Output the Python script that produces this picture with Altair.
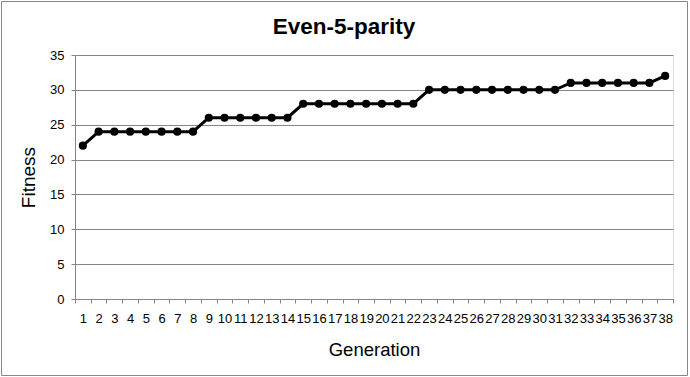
import altair as alt
import pandas as pd

generation = [1, 2, 3, 4, 5, 6, 7, 8, 9, 10, 11, 12, 13, 14, 15, 16, 17, 18, 19,
              20, 21, 22, 23, 24, 25, 26, 27, 28, 29, 30, 31, 32, 33, 34, 35, 36, 37, 38]
fitness = [22, 24, 24, 24, 24, 24, 24, 24, 26, 26, 26, 26, 26, 26,
           28, 28, 28, 28, 28, 28, 28, 28, 30, 30, 30, 30, 30, 30, 30, 30, 30,
           31, 31, 31, 31, 31, 31, 32]
y_ticks = [0, 5, 10, 15, 20, 25, 30, 35]
x_boundaries = [g - 0.5 for g in generation] + [generation[-1] + 0.5]

df = pd.DataFrame({"Generation": generation, "Fitness": fitness})

FONT = "Liberation Sans"
GRAY = "#868686"
W, H = 598, 244

x_enc = alt.X(
    "Generation:Q",
    scale=alt.Scale(domain=[0.5, 38.5], nice=False, zero=False),
    axis=alt.Axis(
        values=x_boundaries,
        labelExpr="datum.value < 38 ? format(datum.value + 0.5, 'd') : ''",
        labelOffset=W / 38 / 2,
        labelFlush=False,
        labelOverlap=False,
        labelBound=False,
        grid=False,
        tickSize=4,
        tickColor=GRAY,
        domainColor=GRAY,
        labelFont=FONT,
        labelFontSize=13,
        labelColor="black",
        labelPadding=9,
        title="Generation",
        titleFont=FONT,
        titleFontSize=18.5,
        titleFontWeight="normal",
        titleColor="black",
        titleX=W / 2,
        titleY=56,
        titleBaseline="alphabetic",
        titleAlign="center",
    ),
)
y_enc = alt.Y(
    "Fitness:Q",
    scale=alt.Scale(domain=[0, 35], nice=False),
    axis=alt.Axis(
        values=y_ticks,
        labelOverlap=False,
        labelFlush=False,
        grid=True,
        gridColor=GRAY,
        tickSize=4,
        tickColor=GRAY,
        domainColor=GRAY,
        labelFont=FONT,
        labelFontSize=13,
        labelColor="black",
        labelPadding=7,
        title="Fitness",
        titleFont=FONT,
        titleFontSize=19,
        titleFontWeight="normal",
        titleColor="black",
        titleX=-47,
        titleY=H / 2,
        titleAngle=-90,
        titleBaseline="middle",
        titleAlign="center",
    ),
)

base = alt.Chart(df).encode(x=x_enc, y=y_enc)
line = base.mark_line(color="black", strokeWidth=3)
pts = base.mark_circle(color="black", opacity=1, size=66)

frame = alt.Chart(pd.DataFrame({"f": [0]})).mark_rect(
    fill=None, stroke="#888888", strokeWidth=1
).encode(
    x=alt.value(-73.5), x2=alt.value(612.5), y=alt.value(-53.5), y2=alt.value(320.5)
)

chart = alt.layer(line, pts, frame).properties(
    width=W,
    height=H,
    autosize=alt.AutoSizeParams(type="none"),
    padding={"left": 75, "top": 55, "right": 17, "bottom": 78},
    title=alt.TitleParams(
        text="Even-5-parity",
        font=FONT,
        fontSize=22.5,
        fontWeight="bold",
        color="black",
        anchor="middle",
        baseline="alphabetic",
        dx=-30,
        offset=0,
        dy=55.5,
    ),
).configure_view(stroke=None).configure(background="white")

chart.save("out.html", embed_options={"renderer": "svg", "actions": False})
